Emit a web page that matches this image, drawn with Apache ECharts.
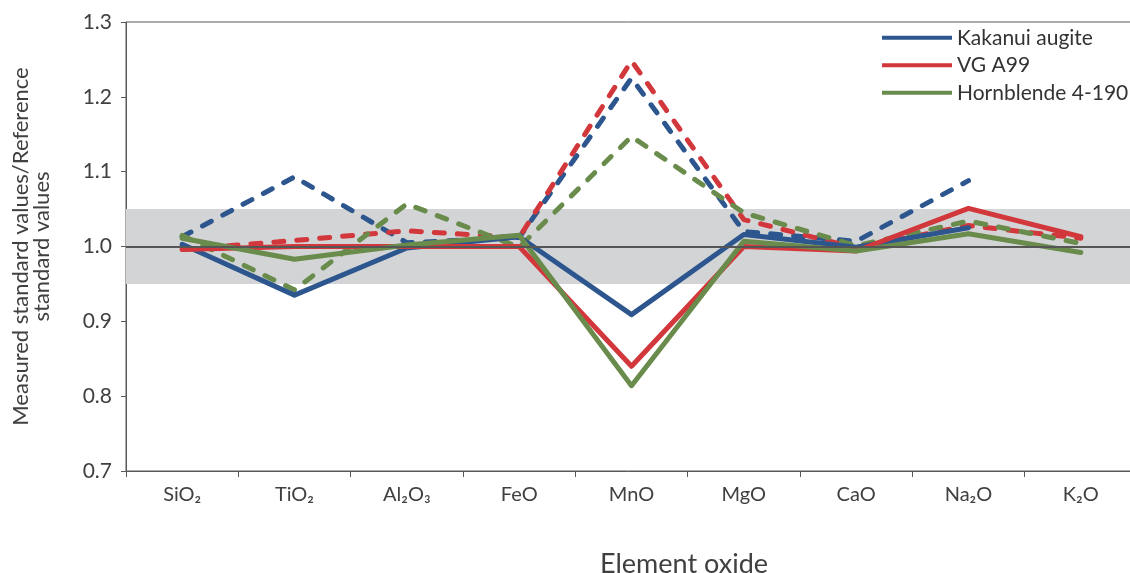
<!DOCTYPE html>
<html>
<head>
<meta charset="utf-8">
<script src="https://cdn.jsdelivr.net/npm/echarts@6/dist/echarts.min.js"></script>
<style>
  html, body { margin: 0; padding: 0; background: #ffffff; }
  #chart { width: 1130px; height: 573px; }
</style>
</head>
<body>
<div id="chart"></div>
<script>
// ---- data ----
const categories = ['SiO₂', 'TiO₂', 'Al₂O₃', 'FeO', 'MnO', 'MgO', 'CaO', 'Na₂O', 'K₂O'];
const yTicks = [0.7, 0.8, 0.9, 1.0, 1.1, 1.2, 1.3];

const kakanuiSolid  = [1.003, 0.935, 0.998, 1.013, 0.909, 1.016, 0.999, 1.025, null];
const kakanuiDashed = [1.013, 1.093, 1.005, 1.012, 1.225, 1.020, 1.007, 1.088, null];
const vgSolid       = [0.996, 1.000, 1.000, 1.000, 0.840, 1.000, 0.994, 1.051, 1.013];
const vgDashed      = [0.996, 1.008, 1.021, 1.012, 1.248, 1.036, 0.998, 1.028, 1.011];
const hbSolid       = [1.011, 0.983, 1.002, 1.015, 0.814, 1.007, 0.994, 1.017, 0.992];
const hbDashed      = [1.015, 0.942, 1.057, 0.999, 1.147, 1.045, 1.001, 1.034, 1.004];

const bandLow = 0.95, bandHigh = 1.05, refLine = 1.0;

const BLUE = '#2d568e', RED = '#d2373c', GREEN = '#698b4b';
const FONT = 'Lato';

const chart = echarts.init(document.getElementById('chart'), null, { renderer: 'canvas' });

function lineSeries(name, data, color, dashed, z) {
  return {
    name: name,
    type: 'line',
    data: data,
    symbol: 'none',
    z: z,
    lineStyle: {
      color: color,
      width: 5,
      type: dashed ? [10, 13] : 'solid',
      cap: 'round',
      join: 'round'
    },
    itemStyle: { color: color },
    emphasis: { disabled: true },
    animation: false
  };
}

chart.setOption({
  animation: false,
  grid: {
    left: 126, top: 22, bottom: 102, right: -7,
    containLabel: false,
    outerBoundsMode: 'none',
    show: true, borderColor: '#595959', borderWidth: 1, backgroundColor: 'transparent'
  },
  title: {
    text: 'Element oxide',
    left: 679, top: 546,
    textAlign: 'center',
    textStyle: { fontFamily: FONT, fontSize: 27, fontWeight: 'normal', color: '#404040' }
  },
  legend: {
    orient: 'vertical',
    left: 882, top: 27,
    padding: 0,
    data: ['Kakanui augite', 'VG A99', 'Hornblende 4-190'],
    icon: 'rect',
    itemWidth: 70, itemHeight: 4,
    itemGap: 6,
    textStyle: { fontFamily: FONT, fontSize: 21, color: '#333333', lineHeight: 21.5 }
  },
  xAxis: {
    type: 'category',
    data: categories,
    boundaryGap: true,
    axisLine: { show: true, lineStyle: { color: '#595959', width: 1 } },
    axisTick: { show: true, length: 6, lineStyle: { color: '#595959' } },
    axisLabel: { fontFamily: FONT, fontSize: 20, color: '#404040', margin: 14 },
    splitLine: { show: false }
  },
  yAxis: {
    type: 'value',
    min: yTicks[0], max: yTicks[yTicks.length - 1], interval: 0.1,
    name: 'Measured standard values/Reference\nstandard values',
    nameLocation: 'middle',
    nameRotate: 90,
    nameGap: 73,
    nameTextStyle: { fontFamily: FONT, fontSize: 22, color: '#404040', lineHeight: 21.5, align: 'center' },
    axisLine: { show: true, lineStyle: { color: '#595959', width: 1 } },
    axisTick: { show: true, length: 5, lineStyle: { color: '#595959' } },
    axisLabel: {
      fontFamily: FONT, fontSize: 21, color: '#404040', margin: 14,
      formatter: v => v.toFixed(1)
    },
    splitLine: { show: false }
  },
  series: [
    {
      name: '_ref', type: 'line', data: [], z: 1, silent: true,
      markArea: {
        silent: true,
        itemStyle: { color: '#d3d4d6' },
        data: [[{ yAxis: bandLow }, { yAxis: bandHigh }]]
      },
      markLine: {
        silent: true, symbol: 'none',
        label: { show: false },
        lineStyle: { color: '#555555', width: 2, type: 'solid' },
        data: [{ yAxis: refLine }]
      }
    },
    lineSeries('Kakanui augite dashed', kakanuiDashed, BLUE, true, 2),
    lineSeries('VG A99 dashed', vgDashed, RED, true, 2),
    lineSeries('Hornblende 4-190 dashed', hbDashed, GREEN, true, 2),
    lineSeries('Kakanui augite', kakanuiSolid, BLUE, false, 3),
    lineSeries('VG A99', vgSolid, RED, false, 3),
    lineSeries('Hornblende 4-190', hbSolid, GREEN, false, 3)
  ]
});
</script>
</body>
</html>
